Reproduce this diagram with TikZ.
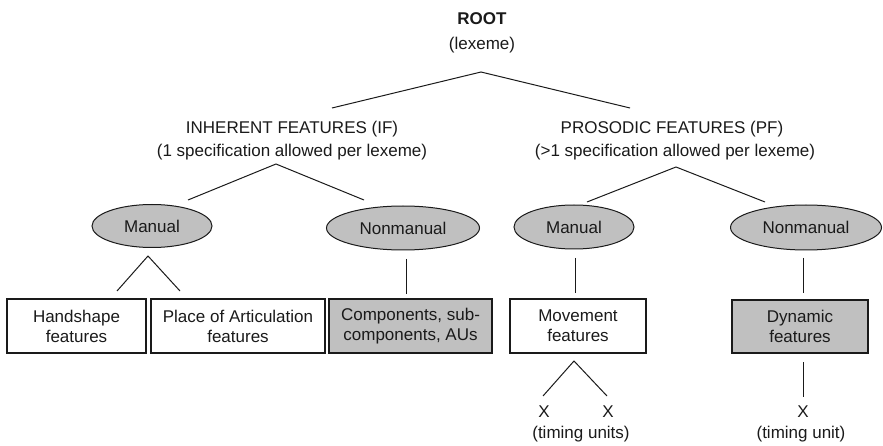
\documentclass[tikz,border=0pt]{standalone}
\usepackage{fontspec}
\setmainfont{Liberation Sans}
\usetikzlibrary{shapes.geometric}
\definecolor{ovalgray}{HTML}{C0C0C0}
\definecolor{boxgray}{HTML}{C0C0C0}
\definecolor{inkc}{HTML}{1A1A1A}
\begin{document}
\begin{tikzpicture}[x=1pt,y=-1pt,
  font=\fontsize{17}{20}\selectfont,
  line width=1pt, draw=inkc, text=inkc,
  lbl/.style={anchor=base,inner sep=0pt},
  oval/.style={ellipse,draw=inkc,fill=ovalgray,inner sep=0pt},
  wbox/.style={rectangle,draw=inkc,align=center,inner sep=0pt,line width=1.2pt},
  gbox/.style={wbox,fill=boxgray},
  edge/.style={draw=inkc,line width=1pt}]
\useasboundingbox (0,0) rectangle (883,446);

% top labels
\node[lbl,font=\fontsize{17}{20}\selectfont\bfseries] (root) at (482,25) {ROOT};
\node[lbl] (lexeme) at (482,50) {(lexeme)};

\node[lbl] (ifa) at (292,134) {INHERENT FEATURES (IF)};
\node[lbl] (ifb) at (292,157) {(1 specification allowed per lexeme)};
\node[lbl] (pfa) at (672,134) {PROSODIC FEATURES (PF)};
\node[lbl] (pfb) at (675,157) {(>1 specification allowed per lexeme)};

% ovals
\node[oval,minimum width=120pt,minimum height=43pt] (ifman) at (152,226) {Manual};
\node[oval,minimum width=153pt,minimum height=44pt] (ifnon) at (403,228) {Nonmanual};
\node[oval,minimum width=120pt,minimum height=44pt] (pfman) at (574,227) {Manual};
\node[oval,minimum width=151pt,minimum height=45pt] (pfnon) at (806,227.5) {Nonmanual};

% boxes
\node[wbox,minimum width=139pt,minimum height=54pt] (hand) at (76.5,326) {Handshape\\features};
\node[wbox,minimum width=174pt,minimum height=54pt] (poa) at (238,326) {Place of Articulation\\features};
\node[gbox,minimum width=163pt,minimum height=54pt] (comp) at (410.5,326) {Components, sub-\\components, AUs};
\node[wbox,minimum width=136pt,minimum height=54pt] (move) at (578,326) {Movement\\features};
\node[gbox,minimum width=136pt,minimum height=53pt] (dyn) at (800,326.5) {Dynamic\\features};

% timing units
\node[lbl] (x1) at (544,417) {X};
\node[lbl] (x2) at (608,417) {X};
\node[lbl] (tu) at (581,438) {(timing units)};
\node[lbl] (x3) at (803,417) {X};
\node[lbl] (tu2) at (801,438) {(timing unit)};

% connector coordinates
\coordinate (rootap) at (481,72);
\coordinate (rootl) at (332,108);
\coordinate (rootr) at (630,108);
\coordinate (ifap) at (276,164);
\coordinate (ifl) at (188,200);
\coordinate (ifr) at (364,200);
\coordinate (pfap) at (676,167);
\coordinate (pfl) at (587,202);
\coordinate (pfr) at (765,202);
\coordinate (manap) at (148,256);
\coordinate (manl) at (117,291);
\coordinate (manr) at (180,291);
\coordinate (nont) at (406,259);
\coordinate (nonb) at (406,294);
\coordinate (pmt) at (575,258);
\coordinate (pmb) at (575,293);
\coordinate (pnt) at (803,258);
\coordinate (pnb) at (803,293);
\coordinate (movap) at (574,361);
\coordinate (movl) at (543,396);
\coordinate (movr) at (607,396);
\coordinate (dynt) at (803,362);
\coordinate (dynb) at (803,397);

\draw[edge] (rootl) -- (rootap) -- (rootr);
\draw[edge] (ifl) -- (ifap) -- (ifr);
\draw[edge] (pfl) -- (pfap) -- (pfr);
\draw[edge] (manl) -- (manap) -- (manr);
\draw[edge] (nont) -- (nonb);
\draw[edge] (pmt) -- (pmb);
\draw[edge] (pnt) -- (pnb);
\draw[edge] (movl) -- (movap) -- (movr);
\draw[edge] (dynt) -- (dynb);
\end{tikzpicture}
\end{document}
